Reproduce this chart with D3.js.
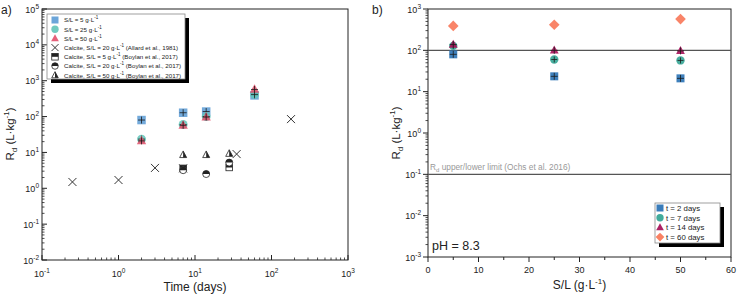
<!DOCTYPE html>
<html>
<head>
<meta charset="utf-8">
<script src="https://cdnjs.cloudflare.com/ajax/libs/d3/7.8.5/d3.min.js"></script>
<style>
  body { margin: 0; background: #fff; }
  svg { display: block; font-family: "Liberation Sans", Arial, sans-serif; }
</style>
</head>
<body>
<div id="container"></div>
<script>
/* donnees : Rd (L/kg) par S/L et par temps */
const times = [2, 7, 14, 60];
const slValues = [5, 25, 50];
const rdSL5 = [80, 128, 138, 390];
const rdSL25 = [23.5, 60, 100, 415];
const rdSL50 = [21, 57, 97, 570];

/* Allard et al., 1981 */
const allardT = [0.25, 1, 3, 7, 35, 180];
const allardRd = [1.5, 1.7, 3.7, 3.6, 9, 85];
/* Boylan et al., 2017 */
const boylanT5 = [7, 28];
const boylanRd5 = [3.6, 3.8];
const boylanT20 = [7, 14, 28];
const boylanRd20 = [3.2, 2.5, 5.2];
const boylanT50 = [7, 14, 28];
const boylanRd50 = [8.6, 8.6, 9.3];

const leftLegend = [
  ["square", "S/L = 5 g·L", "-1", ""],
  ["circle", "S/L = 25 g·L", "-1", ""],
  ["triangle", "S/L = 50 g·L", "-1", ""],
  ["x", "Calcite, S/L = 20 g·L", "-1", " (Allard et al., 1981)"],
  ["hsquare", "Calcite, S/L = 5 g·L", "-1", " (Boylan et al., 2017)"],
  ["hcircle", "Calcite, S/L = 20 g·L", "-1", " (Boylan et al., 2017)"],
  ["htriangle", "Calcite, S/L = 50 g·L", "-1", " (Boylan et al., 2017)"]
];
const rightLegend = ["t = 2 days", "t = 7 days", "t = 14 days", "t = 60 days"];

const colorsA = ["#5b9bd5", "#62c4b8", "#e24f6a"];
const colorsB = ["#2e75b6", "#38a797", "#a8155c", "#f97a5b"];

const W = 738, H = 298;
const svg = d3.select("#container").append("svg")
  .attr("width", W).attr("height", H);

function marker(g, type, x, y, s, color, op) {
  const h = s / 2;
  if (type === "square") {
    g.append("rect").attr("x", x - h).attr("y", y - h).attr("width", s).attr("height", s)
      .attr("fill", color).attr("opacity", op);
  } else if (type === "circle") {
    g.append("circle").attr("cx", x).attr("cy", y).attr("r", h * 1.05)
      .attr("fill", color).attr("opacity", op);
  } else if (type === "triangle") {
    g.append("path").attr("d", `M${x},${y - h * 1.2}L${x + h * 1.1},${y + h * 0.8}L${x - h * 1.1},${y + h * 0.8}Z`)
      .attr("fill", color).attr("opacity", op);
  } else if (type === "diamond") {
    g.append("path").attr("d", `M${x},${y - h * 1.25}L${x + h * 1.25},${y}L${x},${y + h * 1.25}L${x - h * 1.25},${y}Z`)
      .attr("fill", color).attr("opacity", op);
  } else if (type === "x") {
    g.append("path").attr("d", `M${x - h},${y - h}L${x + h},${y + h}M${x - h},${y + h}L${x + h},${y - h}`)
      .attr("stroke", "#333").attr("stroke-width", 1).attr("fill", "none");
  } else if (type === "hsquare") {
    g.append("rect").attr("x", x - h).attr("y", y - h).attr("width", s).attr("height", s)
      .attr("fill", "#fff").attr("stroke", "#222").attr("stroke-width", 0.8);
    g.append("rect").attr("x", x - h).attr("y", y - h).attr("width", s).attr("height", h).attr("fill", "#222");
  } else if (type === "hcircle") {
    g.append("circle").attr("cx", x).attr("cy", y).attr("r", h)
      .attr("fill", "#fff").attr("stroke", "#222").attr("stroke-width", 0.8);
    g.append("path").attr("d", `M${x - h},${y}A${h},${h} 0 0 1 ${x + h},${y}Z`).attr("fill", "#222");
  } else if (type === "htriangle") {
    g.append("path").attr("d", `M${x},${y - h * 1.1}L${x + h},${y + h * 0.8}L${x - h},${y + h * 0.8}Z`)
      .attr("fill", "#fff").attr("stroke", "#222").attr("stroke-width", 0.8);
    g.append("path").attr("d", `M${x},${y - h * 1.1}L${x + h},${y + h * 0.8}L${x},${y + h * 0.8}Z`).attr("fill", "#222");
  }
}

function errCross(g, x, y, a) {
  g.append("path").attr("d", `M${x - a},${y}L${x + a},${y}M${x},${y - a}L${x},${y + a}`)
    .attr("stroke", "#1a1a1a").attr("stroke-width", 0.8);
}

/* etiquette 10^n */
function powLabel(sel, n) {
  sel.append("tspan").text("10");
  sel.append("tspan").attr("dy", -4).attr("font-size", 6.5).text(n);
}

function logAxisY(g, y, x0, dir, lo, hi) {
  for (let e = lo; e <= hi; e++) {
    g.append("line").attr("x1", x0).attr("x2", x0 + dir * 5).attr("y1", y(Math.pow(10, e))).attr("y2", y(Math.pow(10, e)))
      .attr("stroke", "#222");
    const t = g.append("text").attr("x", x0 - (dir > 0 ? 3 : 7)).attr("y", y(Math.pow(10, e)) + 3.5)
      .attr("text-anchor", "end").attr("font-size", 9).attr("fill", "#222");
    powLabel(t, e);
    if (e < hi) {
      for (let k = 2; k <= 9; k++) {
        const v = k * Math.pow(10, e);
        g.append("line").attr("x1", x0).attr("x2", x0 + dir * 2.5).attr("y1", y(v)).attr("y2", y(v))
          .attr("stroke", "#222").attr("stroke-width", 0.8);
      }
    }
  }
}

function yLabel(g, x, y) {
  const t = g.append("text").attr("transform", `translate(${x},${y}) rotate(-90)`)
    .attr("text-anchor", "middle").attr("font-size", 11.5).attr("fill", "#222");
  t.append("tspan").text("R");
  t.append("tspan").attr("dy", 3).attr("font-size", 8).text("d");
  t.append("tspan").attr("dy", -3).text(" (L·kg");
  t.append("tspan").attr("dy", -5).attr("font-size", 8).text("-1");
  t.append("tspan").attr("dy", 5).text(")");
}

function legendBox(g, x, y, w, h) {
  g.append("rect").attr("x", x + 4).attr("y", y + 4).attr("width", w).attr("height", h).attr("fill", "#000");
  g.append("rect").attr("x", x).attr("y", y).attr("width", w).attr("height", h)
    .attr("fill", "#fff").attr("stroke", "#888").attr("stroke-width", 0.8);
}

/* ---------- graphe a) ---------- */
const A = { l: 42, r: 348, t: 9, b: 260 };
const xA = d3.scaleLog().domain([0.1, 1000]).range([A.l, A.r]);
const yA = d3.scaleLog().domain([0.01, 1e5]).range([A.b, A.t]);
const gA = svg.append("g");

gA.append("rect").attr("x", A.l).attr("y", A.t).attr("width", A.r - A.l).attr("height", A.b - A.t)
  .attr("fill", "none").attr("stroke", "#222").attr("stroke-width", 1);
logAxisY(gA, yA, A.l, 1, -2, 5);
for (let e = -1; e <= 3; e++) {
  const px = xA(Math.pow(10, e));
  gA.append("line").attr("x1", px).attr("x2", px).attr("y1", A.b).attr("y2", A.b - 5).attr("stroke", "#222");
  const t = gA.append("text").attr("x", px).attr("y", A.b + 17).attr("text-anchor", "middle")
    .attr("font-size", 9).attr("fill", "#222");
  powLabel(t, e);
  if (e < 3) {
    for (let k = 2; k <= 9; k++) {
      const v = xA(k * Math.pow(10, e));
      gA.append("line").attr("x1", v).attr("x2", v).attr("y1", A.b).attr("y2", A.b - 2.5)
        .attr("stroke", "#222").attr("stroke-width", 0.8);
    }
  }
}
gA.append("text").attr("x", (A.l + A.r) / 2).attr("y", 291).attr("text-anchor", "middle")
  .attr("font-size", 12).attr("fill", "#222").text("Time (days)");
yLabel(gA, 14, 134);
gA.append("text").attr("x", 1).attr("y", 14).attr("font-size", 12).attr("fill", "#222").text("a)");

/* points de reference */
const mA = gA.append("g");
allardT.forEach((t, i) => marker(mA, "x", xA(t), yA(allardRd[i]), 8));
boylanT50.forEach((t, i) => marker(mA, "htriangle", xA(t), yA(boylanRd50[i]), 7));
boylanT5.forEach((t, i) => marker(mA, "hsquare", xA(t), yA(boylanRd5[i]), 6.5));
boylanT20.forEach((t, i) => marker(mA, "hcircle", xA(t), yA(boylanRd20[i]), 7));

const seriesA = [rdSL5, rdSL25, rdSL50];
const shapesA = ["square", "circle", "triangle"];
seriesA.forEach((rd, s) => {
  times.forEach((t, i) => {
    marker(mA, shapesA[s], xA(t), yA(rd[i]), 8.5, colorsA[s], 0.85);
    errCross(mA, xA(t), yA(rd[i]), 3.5);
  });
});

/* legende a) */
const lgA = gA.append("g");
legendBox(lgA, 47, 14, 138, 65);
leftLegend.forEach((row, i) => {
  const cy = 20 + i * 9.2;
  const typ = row[0];
  if (i < 3) marker(lgA, typ, 55, cy, 7, colorsA[i], 0.9);
  else marker(lgA, typ, 55, cy, typ === "x" ? 7 : 6.5);
  const t = lgA.append("text").attr("x", 64).attr("y", cy + 2.3).attr("font-size", 6.2).attr("fill", "#222");
  t.append("tspan").text(row[1]);
  t.append("tspan").attr("dy", -3).attr("font-size", 4.5).text(row[2]);
  t.append("tspan").attr("dy", 3).text(row[3]);
});

/* ---------- graphe b) ---------- */
const B = { l: 428, r: 731, t: 9, b: 257 };
const xB = d3.scaleLinear().domain([0, 60]).range([B.l, B.r]);
const yB = d3.scaleLog().domain([0.001, 1000]).range([B.b, B.t]);
const gB = svg.append("g");

gB.append("rect").attr("x", B.l).attr("y", B.t).attr("width", B.r - B.l).attr("height", B.b - B.t)
  .attr("fill", "none").attr("stroke", "#222").attr("stroke-width", 1);
logAxisY(gB, yB, B.l, -1, -3, 3);
d3.range(0, 61, 5).forEach(v => {
  const major = v % 10 === 0;
  gB.append("line").attr("x1", xB(v)).attr("x2", xB(v)).attr("y1", B.b).attr("y2", B.b + (major ? 5 : 3))
    .attr("stroke", "#222");
  if (major) gB.append("text").attr("x", xB(v)).attr("y", B.b + 16).attr("text-anchor", "middle")
    .attr("font-size", 9).attr("fill", "#222").text(v);
});
const xl = gB.append("text").attr("x", (B.l + B.r) / 2).attr("y", 289).attr("text-anchor", "middle")
  .attr("font-size", 12).attr("fill", "#222");
xl.append("tspan").text("S/L (g·L");
xl.append("tspan").attr("dy", -5).attr("font-size", 8).text("-1");
xl.append("tspan").attr("dy", 5).text(")");
yLabel(gB, 400, 133);
gB.append("text").attr("x", 372).attr("y", 14).attr("font-size", 12).attr("fill", "#222").text("b)");

/* limites */
[100, 0.1].forEach(v => {
  gB.append("line").attr("x1", B.l).attr("x2", B.r).attr("y1", yB(v)).attr("y2", yB(v))
    .attr("stroke", "#555").attr("stroke-width", 1.2);
});
const lim = gB.append("text").attr("x", 430).attr("y", yB(0.1) - 4).attr("font-size", 8.3).attr("fill", "#999");
lim.append("tspan").text("R");
lim.append("tspan").attr("dy", 2).attr("font-size", 6).text("d");
lim.append("tspan").attr("dy", -2).text(" upper/lower limit (Ochs et al. 2016)");

gB.append("text").attr("x", 432).attr("y", 250).attr("font-size", 12.5).attr("fill", "#222").text("pH = 8.3");

const shapesB = ["square", "circle", "triangle", "diamond"];
const mB = gB.append("g");
times.forEach((t, i) => {
  seriesA.forEach((rd, s) => {
    const px = xB(slValues[s]), py = yB(rd[i]);
    marker(mB, shapesB[i], px, py, i === 3 ? 8.5 : 8, colorsB[i], 0.92);
    if (i < 3) errCross(mB, px, py, i === 1 ? 3 : 3.5);
  });
});

/* legende b) */
const lgB = gB.append("g");
legendBox(lgB, 655, 203, 65, 40);
rightLegend.forEach((lab, i) => {
  const cy = 208 + i * 9.7;
  marker(lgB, shapesB[i], 660, cy, 7, colorsB[i], 0.95);
  lgB.append("text").attr("x", 666).attr("y", cy + 3).attr("font-size", 7.8).attr("fill", "#222").text(lab);
});
</script>
</body>
</html>
